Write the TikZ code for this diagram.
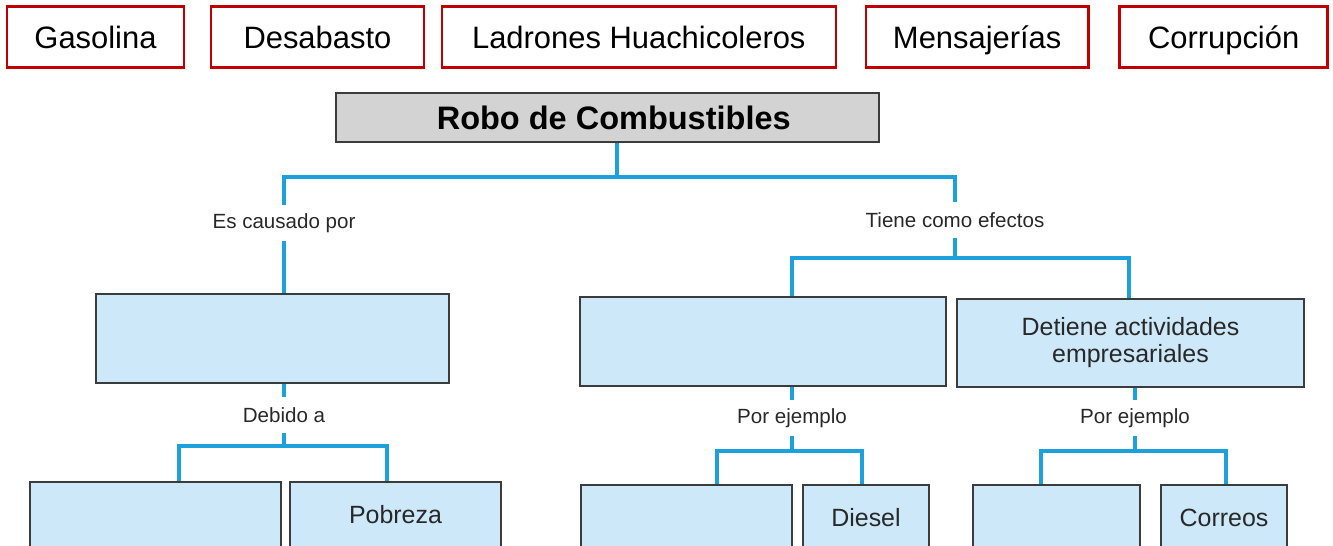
\documentclass[tikz,border=0pt]{standalone}
\usepackage{fontspec}
\setmainfont{Liberation Sans}
\usetikzlibrary{
    positioning,
    calc
}
\definecolor{tagred}{RGB}{192,0,0}
\definecolor{linkblue}{RGB}{30,160,220}
\definecolor{boxblue}{RGB}{204,232,249}
\definecolor{titlegray}{RGB}{211,211,211}
\definecolor{edgegray}{RGB}{60,60,60}
\definecolor{textgray}{RGB}{40,40,40}
\tikzset{
  tag/.style  = {draw=tagred, line width=1.4pt, fill=white, inner sep=0pt,
                 minimum height=1.22cm, text height=12.6pt, text depth=0pt,
                 font=\fontsize{17.6}{21}\selectfont},
  box/.style  = {draw=edgegray, line width=0.8pt, fill=boxblue, inner sep=0pt,
                 align=center, text=textgray, font=\fontsize{14.2}{15.4}\selectfont},
  lnk/.style  = {linkblue, line width=2.3pt}
}

\begin{document}
\begin{tikzpicture}[
  x=0.02cm, y=-0.02cm,
  title/.style={
    draw=edgegray, line width=0.8pt, fill=titlegray, inner sep=0pt,
    minimum width=10.86cm, minimum height=0.98cm,
    font=\bfseries\fontsize{18.5}{22}\selectfont},
  lbl/.style={
    inner sep=0pt, minimum height=0.7cm, text=textgray,
    font=\fontsize{11.7}{14}\selectfont}
]
\clip (0,0) rectangle (1333,546);

%% Top row of words
\node[tag, minimum width=3.54cm] (gas) at (95.5,37) {Gasolina};
\node[tag, minimum width=4.26cm, right=0.49cm of gas] (des) {Desabasto};
\node[tag, minimum width=7.88cm, right=0.31cm of des] (lad) {Ladrones Huachicoleros};
\node[tag, minimum width=4.46cm, right=0.55cm of lad] (men) {Mensajerías};
\node[tag, minimum width=4.16cm, right=0.57cm of men] (cor) {Corrupción};

%% Map nodes
\node[title] (rob) at (607.5,117.5) {\hspace*{0.25cm}Robo de Combustibles};

\node[box, minimum width=7.06cm, minimum height=1.78cm] (cau) at (272.5,338.5) {};
\node[box, minimum width=7.32cm, minimum height=1.78cm] (efe) at (763,341.5) {};
\node[box, minimum width=6.94cm, minimum height=1.76cm] (det) at (1130.5,343)
  {Detiene actividades\\empresariales};

\node[box, minimum width=5.02cm, minimum height=1.32cm] (cb1) at (155.5,515) {};
\node[box, minimum width=4.22cm, minimum height=1.32cm] (pob) at (395.5,515) {Pobreza};
\node[box, minimum width=4.22cm, minimum height=1.32cm] (ej1) at (686.5,518) {};
\node[box, minimum width=2.52cm, minimum height=1.32cm] (die) at (866,518) {Diesel};
\node[box, minimum width=3.34cm, minimum height=1.32cm] (ej2) at (1056.5,518) {};
\node[box, minimum width=2.52cm, minimum height=1.32cm] (cre) at (1224,518) {Correos};

%% Link labels
\node[lbl] (lcau) at (284,223) {Es causado por};
\node[lbl] (lefe) at (955,220) {Tiene como efectos};
\node[lbl] (ldeb) at (284,415) {Debido a};
\node[lbl] (lej1) at (792,418) {Por ejemplo};
\node[lbl] (lej2) at (1135,418) {Por ejemplo};

%% Bar corners
\coordinate (j0) at (617,177);
\coordinate (d1) at (792,258);
\coordinate (d2) at (1129,258);
\coordinate (b1) at (179,446);
\coordinate (b2) at (387,446);
\coordinate (c1) at (717,451);
\coordinate (c2) at (862,451);
\coordinate (c3) at (1041,451);
\coordinate (c4) at (1226,451);

%% Links from the title
\draw[lnk] (rob.south -| j0) -- (j0);
\draw[lnk] (lcau.north) -- (lcau.north |- j0) -- (lefe.north |- j0) -- (lefe.north);
\draw[lnk] (lcau.south) -- (lcau.south |- cau.north);
\draw[lnk] (lefe.south) -- (lefe.south |- d1);
\draw[lnk] (d1 |- efe.north) -- (d1) -- (d2) -- (d2 |- det.north);

%% Links to the bottom row
\draw[lnk] (cau.south -| ldeb) -- (ldeb.north);
\draw[lnk] (ldeb.south) -- (ldeb.south |- b1);
\draw[lnk] (b1 |- cb1.north) -- (b1) -- (b2) -- (b2 |- pob.north);

\draw[lnk] (efe.south -| lej1) -- (lej1.north);
\draw[lnk] (lej1.south) -- (lej1.south |- c1);
\draw[lnk] (c1 |- ej1.north) -- (c1) -- (c2) -- (c2 |- die.north);

\draw[lnk] (det.south -| lej2) -- (lej2.north);
\draw[lnk] (lej2.south) -- (lej2.south |- c3);
\draw[lnk] (c3 |- ej2.north) -- (c3) -- (c4) -- (c4 |- cre.north);

\end{tikzpicture}
\end{document}
